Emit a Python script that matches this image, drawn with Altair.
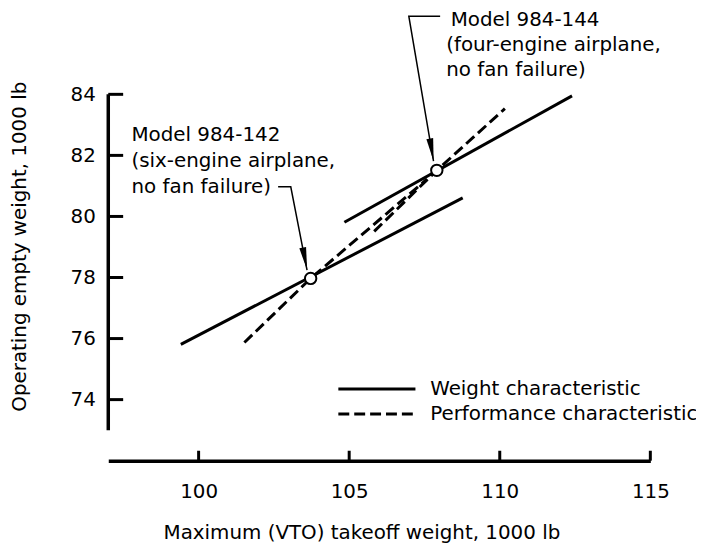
import altair as alt
import pandas as pd

# ---- data ----
x_ticks = [100, 105, 110, 115]
y_ticks = [74, 76, 78, 80, 82, 84]
y_axis_span = [73, 84]

weight_142_x = [99.41, 108.77]
weight_142_y = [75.81, 80.61]
weight_144_x = [104.84, 112.40]
weight_144_y = [79.81, 83.95]
perf_142_x = [101.52, 103.72, 107.58]
perf_142_y = [75.87, 77.97, 81.22]
perf_144_x = [105.83, 107.91, 110.17]
perf_144_y = [79.51, 81.51, 83.53]

model_names = ["Model 984-142", "Model 984-144"]
model_x = [103.72, 107.91]
model_y = [77.97, 81.51]

note_142_lines = ["Model 984-142", "(six-engine airplane,", "no fan failure)"]
note_142_x = [97.77, 97.77, 97.77]
note_142_y = [82.66, 81.82, 80.97]
note_144_lines = ["Model 984-144", "(four-engine airplane,", "no fan failure)"]
note_144_x = [108.37, 108.22, 108.22]
note_144_y = [86.42, 85.60, 84.79]

leader_142_x = [102.64, 103.06, 103.60]
leader_142_y = [80.97, 80.97, 78.24]
leader_144_x = [108.02, 106.98, 107.80]
leader_144_y = [86.56, 86.56, 81.81]
arrow_x = [103.53, 107.74]
arrow_y = [78.61, 82.18]
arrow_angle = [348.8, 350.3]

legend_labels = ["Weight characteristic", "Performance characteristic"]
legend_line_x = [104.64, 107.20]
legend_y = [74.35, 73.53]
legend_text_x = [107.69, 107.69]

FONT = "DejaVu Sans"
W, H = 546, 369

xs = alt.Scale(domain=[97, 115], nice=False, zero=False)
ys = alt.Scale(domain=[72, 84], nice=False, zero=False)
x_axis = alt.Axis(values=x_ticks, ticks=False, tickSize=0, grid=False, domain=True,
                  domainColor="black", domainWidth=3.5, labelPadding=21, labelFlush=False,
                  labelFontSize=20, labelFont=FONT, labelColor="black",
                  title="Maximum (VTO) takeoff weight, 1000 lb", titleFont=FONT,
                  titleFontSize=20, titleFontWeight="normal", titleColor="black",
                  titleX=255, titleY=72, titleBaseline="middle", titleAlign="center")
y_axis = alt.Axis(values=y_ticks, ticks=False, tickSize=0, grid=False, domain=False,
                  labelPadding=13, labelFlush=False, labelFontSize=20, labelFont=FONT,
                  labelColor="black",
                  title="Operating empty weight, 1000 lb", titleFont=FONT,
                  titleFontSize=20, titleFontWeight="normal", titleColor="black",
                  titleX=-89, titleY=153, titleBaseline="middle", titleAlign="center")

def X(f="x"):
    return alt.X(f"{f}:Q", scale=xs, axis=x_axis)

def Y(f="y"):
    return alt.Y(f"{f}:Q", scale=ys, axis=y_axis)

# lines
solid_df = pd.concat([
    pd.DataFrame({"x": weight_142_x, "y": weight_142_y, "id": "w142"}),
    pd.DataFrame({"x": weight_144_x, "y": weight_144_y, "id": "w144"}),
])
dash_df = pd.concat([
    pd.DataFrame({"x": perf_142_x, "y": perf_142_y, "id": "p142"}),
    pd.DataFrame({"x": perf_144_x, "y": perf_144_y, "id": "p144"}),
])
solid = alt.Chart(solid_df).mark_line(color="black", strokeWidth=3).encode(
    x=X(), y=Y(), detail="id:N")
dashed = alt.Chart(dash_df).mark_line(color="black", strokeWidth=3, strokeDash=[11, 5]).encode(
    x=X(), y=Y(), detail="id:N")

# axis decorations (inward ticks, short y axis line)
yline = alt.Chart(pd.DataFrame({"y": [y_axis_span[0]], "y2": [y_axis_span[1]]})).mark_rule(
    color="black", strokeWidth=3.5).encode(y=Y(), y2="y2:Q", x=alt.value(0))
yticks = alt.Chart(pd.DataFrame({"y": y_ticks})).mark_rule(color="black", strokeWidth=3).encode(
    y=Y(), x=alt.value(0), x2=alt.value(15))
xticks = alt.Chart(pd.DataFrame({"x": x_ticks})).mark_rule(color="black", strokeWidth=3).encode(
    x=X(), y=alt.value(H), y2=alt.value(H - 10))

# model points
pts = alt.Chart(pd.DataFrame({"x": model_x, "y": model_y, "name": model_names})).mark_point(
    shape="circle", size=132, filled=True, fill="white", stroke="black", strokeWidth=2, opacity=1
).encode(x=X(), y=Y())

# annotations
notes_df = pd.concat([
    pd.DataFrame({"x": note_142_x, "y": note_142_y, "t": note_142_lines}),
    pd.DataFrame({"x": note_144_x, "y": note_144_y, "t": note_144_lines}),
])
notes = alt.Chart(notes_df).mark_text(align="left", baseline="middle", font=FONT,
                                      fontSize=20, color="black").encode(x=X(), y=Y(), text="t:N")

leader_df = pd.concat([
    pd.DataFrame({"x": leader_142_x, "y": leader_142_y, "id": "a", "o": [0, 1, 2]}),
    pd.DataFrame({"x": leader_144_x, "y": leader_144_y, "id": "b", "o": [0, 1, 2]}),
])
leaders = alt.Chart(leader_df).mark_line(color="black", strokeWidth=1.5).encode(
    x=X(), y=Y(), detail="id:N", order="o:Q")
arrows = alt.Chart(pd.DataFrame({"x": arrow_x, "y": arrow_y, "a": arrow_angle})).mark_point(
    shape="M-0.3,-1L0.3,-1L0,1Z", size=529, filled=True, fill="black", strokeWidth=0, opacity=1
).encode(x=X(), y=Y(), angle=alt.Angle("a:Q", scale=None))

# legend
leg_line_df = pd.DataFrame({"x": legend_line_x, "y": [legend_y[0]] * 2, "id": "s"})
leg_dash_df = pd.DataFrame({"x": legend_line_x, "y": [legend_y[1]] * 2, "id": "d"})
leg_solid = alt.Chart(leg_line_df).mark_line(color="black", strokeWidth=3).encode(
    x=X(), y=Y(), detail="id:N")
leg_dash = alt.Chart(leg_dash_df).mark_line(color="black", strokeWidth=3, strokeDash=[11, 5]).encode(
    x=X(), y=Y(), detail="id:N")
leg_text = alt.Chart(pd.DataFrame({"x": legend_text_x, "y": legend_y, "t": legend_labels})).mark_text(
    align="left", baseline="middle", font=FONT, fontSize=20, color="black").encode(
    x=X(), y=Y(), text="t:N")

chart = alt.layer(
    yline, yticks, xticks, solid, dashed, leaders, arrows, pts, notes, leg_solid, leg_dash, leg_text
).properties(
    width=W, height=H,
    autosize=alt.AutoSizeParams(type="none"),
    padding={"left": 101, "top": 85, "right": 46, "bottom": 86},
    background="white",
).configure_view(stroke=None)

chart.save("out.html", embed_options={"renderer": "svg", "actions": False})
